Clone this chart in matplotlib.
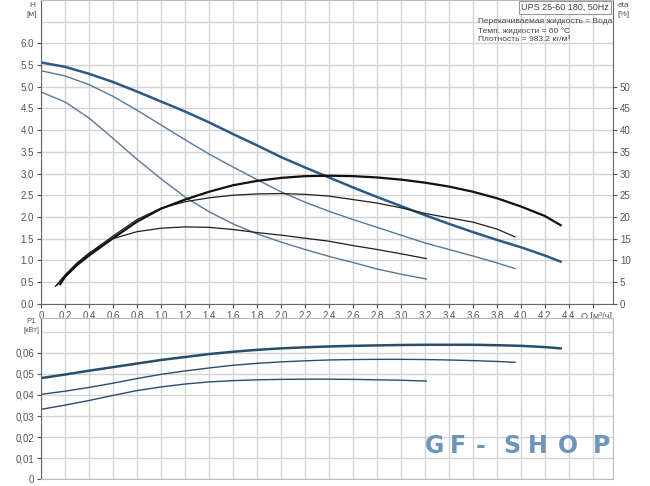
import numpy as np
import matplotlib
matplotlib.use("Agg")
import matplotlib.pyplot as plt

plt.rcParams['font.family'] = ['Liberation Sans', 'DejaVu Sans']

# flow, m3/h
q_h1 = [0, 0.2, 0.4, 0.6, 0.8, 1.0, 1.2, 1.4, 1.6, 1.8, 2.0, 2.2, 2.4, 2.6, 2.8, 3.0, 3.2, 3.4, 3.6, 3.8, 4.0, 4.2, 4.33]
h1 = [5.56, 5.46, 5.30, 5.11, 4.89, 4.66, 4.43, 4.18, 3.91, 3.65, 3.38, 3.14, 2.91, 2.68, 2.46, 2.25, 2.04, 1.84, 1.65, 1.47, 1.30, 1.11, 0.97]
q_h2 = [0, 0.2, 0.4, 0.6, 0.8, 1.0, 1.2, 1.4, 1.6, 1.8, 2.0, 2.2, 2.4, 2.6, 2.8, 3.0, 3.2, 3.4, 3.6, 3.8, 3.95]
h2 = [5.37, 5.25, 5.05, 4.78, 4.46, 4.12, 3.78, 3.45, 3.15, 2.86, 2.58, 2.34, 2.13, 1.94, 1.76, 1.58, 1.40, 1.25, 1.10, 0.94, 0.81]
q_h3 = [0, 0.2, 0.4, 0.6, 0.8, 1.0, 1.2, 1.4, 1.6, 1.8, 2.0, 2.2, 2.4, 2.6, 2.8, 3.0, 3.21]
h3 = [4.88, 4.65, 4.28, 3.81, 3.33, 2.88, 2.46, 2.12, 1.84, 1.61, 1.42, 1.25, 1.09, 0.95, 0.80, 0.68, 0.57]

# efficiency, %
q_e1 = [0.16, 0.2, 0.3, 0.4, 0.6, 0.8, 1.0, 1.2, 1.4, 1.6, 1.8, 2.0, 2.2, 2.4, 2.6, 2.8, 3.0, 3.2, 3.4, 3.6, 3.8, 4.0, 4.2, 4.33]
eta1 = [4.5, 6.2, 8.9, 11.1, 15.1, 18.9, 21.9, 24.0, 25.8, 27.3, 28.3, 29.0, 29.4, 29.5, 29.4, 29.1, 28.6, 27.9, 27.0, 25.8, 24.3, 22.4, 20.2, 18.1]
q_e2 = [0.13, 0.2, 0.3, 0.4, 0.6, 0.8, 1.0, 1.2, 1.4, 1.6, 1.8, 2.0, 2.2, 2.4, 2.6, 2.8, 3.0, 3.2, 3.4, 3.6, 3.8, 3.95]
eta2 = [4.2, 6.5, 9.3, 11.6, 15.6, 19.4, 22.0, 23.5, 24.4, 25.0, 25.3, 25.4, 25.2, 24.8, 24.0, 23.2, 22.1, 20.8, 19.8, 18.8, 17.2, 15.4]
q_e3 = [0.12, 0.2, 0.3, 0.4, 0.6, 0.8, 1.0, 1.2, 1.4, 1.6, 1.8, 2.0, 2.2, 2.4, 2.6, 2.8, 3.0, 3.21]
eta3 = [4.0, 6.6, 9.4, 11.6, 15.0, 16.6, 17.4, 17.7, 17.6, 17.1, 16.4, 15.8, 15.1, 14.4, 13.4, 12.5, 11.5, 10.4]

# power, kW
q_p1 = q_h1
p1 = [0.0480, 0.0497, 0.0515, 0.0532, 0.0549, 0.0566, 0.0580, 0.0594, 0.0605, 0.0614, 0.0621, 0.0626, 0.0630, 0.0633, 0.0635, 0.0637, 0.0638, 0.0638, 0.0638, 0.0636, 0.0633, 0.0627, 0.0621]
q_p2 = q_h2
p2 = [0.0403, 0.0418, 0.0436, 0.0456, 0.0478, 0.0498, 0.0514, 0.0528, 0.0541, 0.0550, 0.0557, 0.0562, 0.0566, 0.0568, 0.0569, 0.0569, 0.0568, 0.0566, 0.0563, 0.0559, 0.0555]
q_p3 = q_h3
p3 = [0.0332, 0.0352, 0.0374, 0.0398, 0.0421, 0.0438, 0.0452, 0.0462, 0.0468, 0.0472, 0.0474, 0.0475, 0.0475, 0.0474, 0.0472, 0.0470, 0.0466]

x_ticks = [0, 0.2, 0.4, 0.6, 0.8, 1.0, 1.2, 1.4, 1.6, 1.8, 2.0, 2.2, 2.4, 2.6, 2.8, 3.0, 3.2, 3.4, 3.6, 3.8, 4.0, 4.2, 4.4, 4.6]
x_labels = ["0"] + [("%.1f" % v).replace(".", ",") for v in x_ticks[1:-1]] + [""]
h_ticks = [0, 0.5, 1.0, 1.5, 2.0, 2.5, 3.0, 3.5, 4.0, 4.5, 5.0, 5.5, 6.0]
eta_ticks = [0, 5, 10, 15, 20, 25, 30, 35, 40, 45, 50]
p_ticks = [0, 0.01, 0.02, 0.03, 0.04, 0.05, 0.06]

W, H = 650, 486
grid_c = "#d4d4d4"
tick_c = "#555555"
blue_thick = "#2c5a86"
blue_thin = "#56799b"
pw_c = "#274d70"

fig = plt.figure(figsize=(6.5, 4.86), dpi=100)

# top axes: head + efficiency
ax = fig.add_axes([41 / W, 1 - 303.7 / H, 572 / W, 303.7 / H])
ax.set_xlim(0, 572 / 120)
ax.set_ylim(0, 7.0)
ax.set_xticks(x_ticks)
ax.set_xticklabels(x_labels)
ax.set_yticks(h_ticks)
ax.set_yticklabels(["%.1f" % v for v in h_ticks])
ax.set_yticks([6.5], minor=True)
ax.grid(True, which="both", color=grid_c, lw=1.0)
ax.tick_params(which="minor", length=0)
ax.tick_params(labelsize=7, colors=tick_c, length=3, pad=2)
ax.set_axisbelow(True)
ax.spines["top"].set_color("#bbbbbb")
for s in ["left", "bottom", "right"]:
    ax.spines[s].set_color("#666666")
ax.text(4.63, -0.2, "Q [м³/ч]", ha="center", va="top", fontsize=6.5, color=tick_c)

ax.plot(q_h3, h3, color=blue_thin, lw=1.0)
ax.plot(q_h2, h2, color=blue_thin, lw=1.0)
ax.plot(q_h1, h1, color=blue_thick, lw=1.8)

ax_e = ax.twinx()
ax_e.set_ylim(0, 70)
ax_e.set_yticks(eta_ticks)
ax_e.tick_params(labelsize=7, colors=tick_c, length=3, pad=2)
for s in ax_e.spines.values():
    s.set_visible(False)
ax_e.plot(q_e3, eta3, color="#1e1e1e", lw=0.9)
ax_e.plot(q_e2, eta2, color="#1e1e1e", lw=0.9)
ax_e.plot(q_e1, eta1, color="#111111", lw=1.6)

# bottom axes: power
axp = fig.add_axes([41 / W, 1 - 479.4 / H, 572 / W, 161.4 / H])
axp.set_xlim(0, 572 / 120)
axp.set_ylim(0, 161.4 / 2110)
axp.set_xticks(x_ticks)
axp.set_xticklabels([])
axp.tick_params(axis="x", length=0)
axp.set_yticks(p_ticks)
axp.set_yticklabels(["0"] + [("%.2f" % v).replace(".", ",") for v in p_ticks[1:]])
axp.set_yticks([0.07], minor=True)
axp.grid(True, which="both", color=grid_c, lw=1.0)
axp.tick_params(which="minor", length=0)
axp.tick_params(axis="y", labelsize=7, colors=tick_c, length=3, pad=2)
axp.set_axisbelow(True)
for s in ["top", "right", "bottom"]:
    axp.spines[s].set_color("#bbbbbb")
axp.spines["left"].set_color("#666666")

axp.plot(q_p3, p3, color=pw_c, lw=1.0)
axp.plot(q_p2, p2, color=pw_c, lw=1.0)
axp.plot(q_p1, p1, color=pw_c, lw=1.8)

# axis captions
fig.text(32 / W, 1 - 2 / H, "H\n[м]", ha="center", va="top", fontsize=6, color=tick_c, linespacing=1.3)
fig.text(623 / W, 1 - 2 / H, "eta\n[%]", ha="center", va="top", fontsize=6, color=tick_c, linespacing=1.3)
fig.text(31 / W, 1 - 318 / H, "P1\n[кВт]", ha="center", va="top", fontsize=5.5, color=tick_c, linespacing=1.3)

fig.text(609 / W, 1 - 3 / H, "UPS 25-60 180, 50Hz", ha="right", va="top", fontsize=6.5, color="#444444",
         bbox=dict(boxstyle="square,pad=0.25", fc="white", ec="#999999", lw=0.8))
fig.text(478 / W, 1 - 18 / H, "Перекачиваемая жидкость = Вода\nТемп. жидкости = 60 °C\nПлотность = 983.2 кг/м³",
         ha="left", va="top", fontsize=6, color="#444444", linespacing=1.35)

# watermark
wm_letters = ["G", "F", "-", "S", "H", "O", "P"]
wm_x = [435, 458, 481, 512, 538, 568, 602]
for ch, xp in zip(wm_letters, wm_x):
    fig.text(xp / W, 1 - 446 / H, ch, ha="center", va="center", fontsize=17, fontweight="bold",
             family="DejaVu Sans", color="#6f94ba")

fig.savefig("out.png", dpi=100)
